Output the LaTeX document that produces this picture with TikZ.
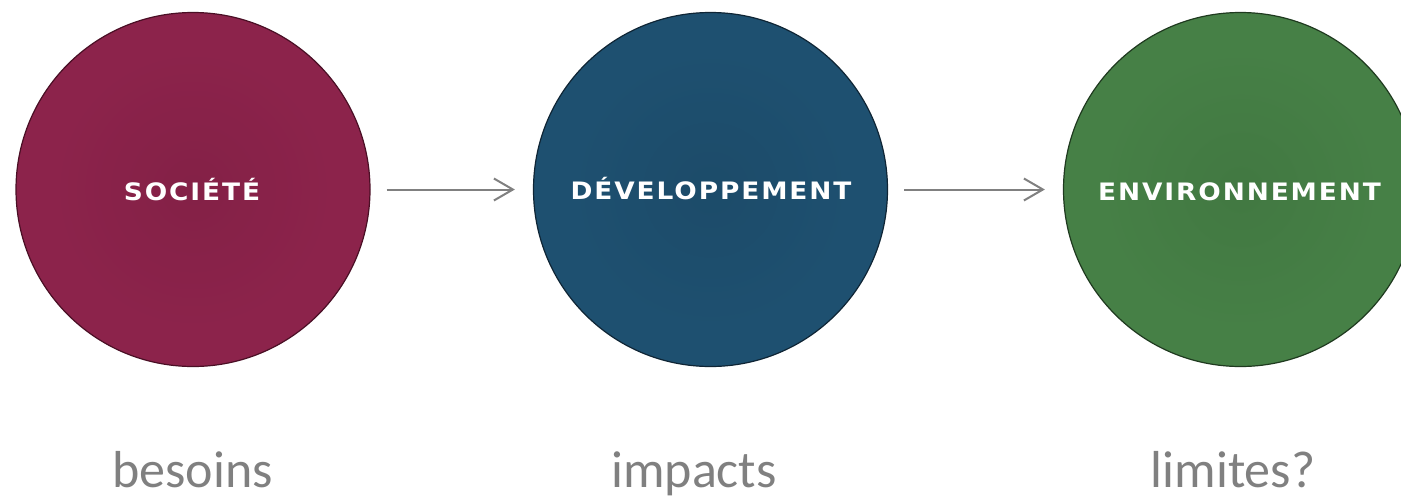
\documentclass[tikz,border=0pt]{standalone}
\usepackage{fontspec}
\setmainfont{Carlito}
\newfontfamily\capsfont[FakeStretch=1.1,LetterSpace=8]{DejaVu Sans}
\usetikzlibrary{arrows.meta}
\definecolor{redc}{HTML}{8C234B}
\definecolor{redd}{HTML}{4A0F25}
\definecolor{bluec}{HTML}{1E5070}
\definecolor{blued}{HTML}{0F2535}
\definecolor{greenc}{HTML}{468046}
\definecolor{greend}{HTML}{1F3A1F}
\definecolor{labgray}{HTML}{808080}
\pgfdeclareradialshading{redball}{\pgfpoint{0bp}{0bp}}{color(0bp)=(redc!94!black); color(20bp)=(redc); color(42bp)=(redc); color(48bp)=(redc!88!black); color(50bp)=(redc!75!black)}
\pgfdeclareradialshading{blueball}{\pgfpoint{0bp}{0bp}}{color(0bp)=(bluec!94!black); color(20bp)=(bluec); color(42bp)=(bluec); color(48bp)=(bluec!88!black); color(50bp)=(bluec!75!black)}
\pgfdeclareradialshading{greenball}{\pgfpoint{0bp}{0bp}}{color(0bp)=(greenc!94!black); color(20bp)=(greenc); color(42bp)=(greenc); color(48bp)=(greenc!88!black); color(50bp)=(greenc!75!black)}
\begin{document}
\begin{tikzpicture}[x=1pt,y=-1pt,
  ball/.style={circle, inner sep=0pt, minimum size=354pt, line width=1.2pt},
  captext/.style={anchor=base, text=white, inner sep=0pt, font=\capsfont\bfseries\fontsize{24}{26}\selectfont},
  lbl/.style={anchor=base, text=labgray, inner sep=0pt, font=\fontsize{52}{60}\selectfont},
  arr/.style={draw=labgray, line width=2pt, -{Straight Barb[length=19pt,width=22pt,line width=2pt]}, shorten <=16pt, shorten >=18pt}]
\useasboundingbox (0,0) rectangle (1401,499);
\clip (0,0) rectangle (1401,499);
\node[ball, shading=redball, draw=redd] (c1) at (193,189.5) {};
\node[ball, shading=blueball, draw=blued] (c2) at (710.5,189.5) {};
\node[ball, shading=greenball, draw=greend] (c3) at (1240.5,189.5) {};
\node[captext] (t1) at (192,200) {SOCIÉTÉ};
\node[captext] (t2) at (711,199.5) {DÉVELOPPEMENT};
\node[captext] (t3) at (1239.5,200.5) {ENVIRONNEMENT};
\draw[arr] (c1) -- (c2);
\draw[arr] (c2) -- (c3);
\node[lbl] (l1) at (192.5,487) {besoins};
\node[lbl] (l2) at (694,487) {impacts};
\node[lbl] (l3) at (1233,487) {limites?};
\end{tikzpicture}
\end{document}
